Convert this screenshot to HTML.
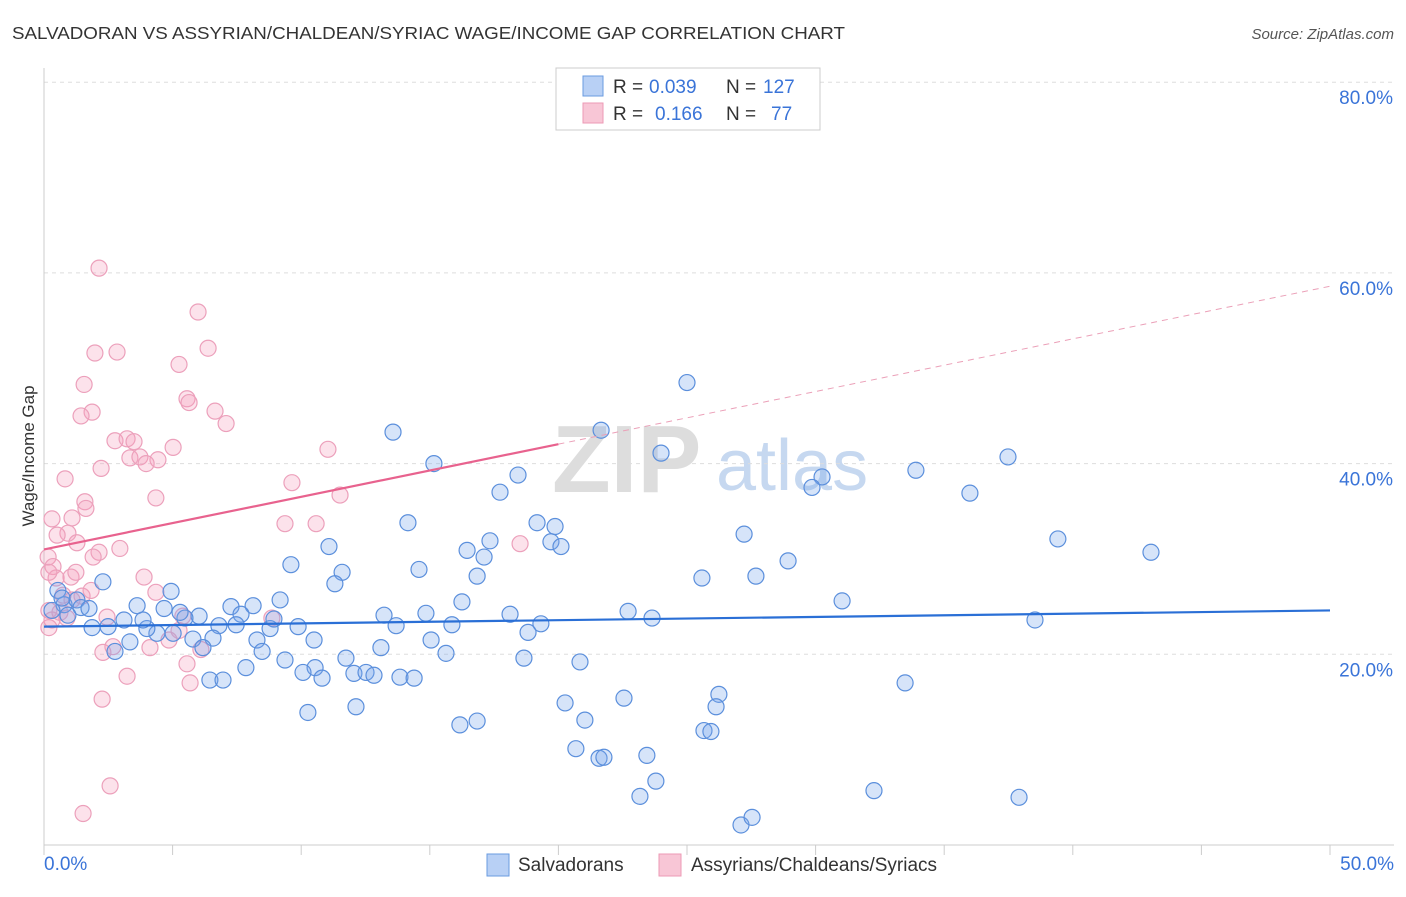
<!DOCTYPE html>
<html><head><meta charset="utf-8"><style>
body{margin:0;background:#fff;font-family:"Liberation Sans",sans-serif;}
svg text{font-family:"Liberation Sans",sans-serif;}
</style></head><body>
<svg id="chart" width="1406" height="892" xmlns="http://www.w3.org/2000/svg">
<text x="12" y="39" font-size="17.5" fill="#333" textLength="833" lengthAdjust="spacingAndGlyphs">SALVADORAN VS ASSYRIAN/CHALDEAN/SYRIAC WAGE/INCOME GAP CORRELATION CHART</text>
<text x="1394" y="39" font-size="15" fill="#555" font-style="italic" text-anchor="end">Source: ZipAtlas.com</text>
<g>
<text x="552" y="492" font-size="96" font-family="Liberation Serif,serif" fill="#ddd" font-weight="bold">ZIP</text>
<text x="716" y="490" font-size="72" fill="#c6d8f0">atlas</text>
</g>
<g id="grid"></g>
<g id="axes"></g>
<g id="marks"></g>
<g id="trend"></g>
<g>
<rect x="556" y="68" width="264" height="62" fill="#fff" stroke="#ccc"/>
<rect x="583" y="76" width="20" height="20" fill="#b8d0f5" stroke="#6a9be0"/>
<text x="613" y="93" font-size="19" fill="#333">R = </text><text x="649" y="93" font-size="19" fill="#3a74d8">0.039</text>
<text x="726" y="93" font-size="19" fill="#333">N = </text><text x="763" y="93" font-size="19" fill="#3a74d8">127</text>
<rect x="583" y="103" width="20" height="20" fill="#f8c6d6" stroke="#ec9ab5"/>
<text x="613" y="120" font-size="19" fill="#333">R = </text><text x="655" y="120" font-size="19" fill="#3a74d8">0.166</text>
<text x="726" y="120" font-size="19" fill="#333">N = </text><text x="771" y="120" font-size="19" fill="#3a74d8">77</text>
</g>
<g>
<rect x="487" y="854" width="22" height="22" fill="#b8d0f5" stroke="#6a9be0"/>
<text x="518" y="871" font-size="19" fill="#333">Salvadorans</text>
<rect x="659" y="854" width="22" height="22" fill="#f8c6d6" stroke="#ec9ab5"/>
<text x="691" y="871" font-size="19" fill="#333">Assyrians/Chaldeans/Syriacs</text>
</g>
<text transform="translate(34,456) rotate(-90)" font-size="17" fill="#333" text-anchor="middle">Wage/Income Gap</text>
</svg>
<script>
const blueX=[13.57,25.0,21.66,23.99,15.16,18.43,17.73,30.25,29.86,33.9,36.0,37.48,14.15,19.17,19.87,19.71,20.1,16.45,17.34,17.11,11.08,9.6,11.59,11.31,14.58,16.84,27.22,28.93,25.58,27.68,39.42,43.04,31.03,38.53,22.71,23.64,18.12,16.25,13.22,14.85,15.86,13.69,18.82,19.32,9.88,10.5,8.79,8.28,8.94,9.18,8.13,7.27,7.66,7.47,6.8,6.57,5.79,6.18,6.03,5.48,5.29,4.67,5.02,4.39,4.0,3.85,3.62,3.34,2.76,2.49,2.29,1.87,3.11,4.94,0.78,1.28,1.44,0.93,0.54,0.31,1.75,0.7,8.48,9.37,10.54,10.07,10.81,11.74,12.05,12.52,12.83,13.1,13.84,14.39,15.05,15.63,18.66,20.84,6.45,6.96,7.85,10.26,12.13,16.17,16.84,20.26,21.03,22.55,26.24,26.13,25.66,25.93,20.68,21.58,21.77,23.44,23.79,23.17,32.27,37.91,27.1,27.53,33.48];
const blueY=[43.3,48.5,43.5,41.1,40.0,38.8,37.0,38.6,37.5,39.3,36.9,40.7,33.8,33.8,33.4,31.8,31.3,30.9,31.9,30.2,31.3,29.4,28.6,27.4,28.9,28.2,32.6,29.8,28.0,28.2,32.1,30.7,25.6,23.6,24.5,23.8,24.2,25.5,24.1,24.3,23.1,23.0,22.3,23.2,22.9,21.5,22.7,21.5,23.7,25.7,25.1,25.0,24.2,23.1,23.0,21.7,21.6,20.7,24.0,23.8,24.4,24.8,22.2,22.2,22.7,23.6,25.1,21.3,20.3,22.9,27.6,22.8,23.6,26.6,25.2,25.7,24.9,24.1,26.7,24.6,24.8,25.9,20.3,19.4,18.6,18.1,17.5,19.6,18.0,18.1,17.8,20.7,17.6,17.5,21.5,20.1,19.6,19.2,17.3,17.3,18.6,13.9,14.5,12.6,13.0,14.9,13.1,15.4,15.8,14.5,12.0,11.9,10.1,9.1,9.2,9.4,6.7,5.1,5.7,5.0,2.1,2.9,17.0];
const pinkX=[2.14,5.99,6.38,1.98,2.84,5.25,1.56,5.56,5.64,1.87,1.44,6.65,7.08,2.76,3.23,3.5,5.02,11.04,3.34,3.73,4.43,3.97,0.82,2.22,9.64,1.59,4.35,11.51,1.63,0.31,1.09,0.93,0.51,2.95,1.28,2.14,1.91,9.37,10.58,18.51,0.16,0.35,0.47,1.05,1.24,0.19,0.74,1.48,1.83,3.89,4.35,1.09,0.19,0.31,0.89,0.62,2.45,5.4,8.86,5.25,4.86,4.12,2.29,2.68,6.1,5.56,3.23,5.68,2.26,2.57,1.52,0.19];
const pinkY=[60.5,55.9,52.1,51.6,51.7,50.4,48.3,46.8,46.4,45.4,45.0,45.5,44.2,42.4,42.6,42.3,41.7,41.5,40.6,40.7,40.4,40.0,38.4,39.5,38.0,36.0,36.4,36.7,35.3,34.2,34.3,32.7,32.5,31.1,31.7,30.7,30.2,33.7,33.7,31.6,30.2,29.2,28.0,28.1,28.6,28.6,26.2,26.1,26.7,28.1,26.5,25.7,24.6,23.6,23.8,24.4,23.9,24.0,23.8,22.5,21.5,20.7,20.2,20.8,20.5,19.0,17.7,17.0,15.3,6.2,3.3,22.8];
const blueTrend=[22.9,24.6];
const pinkTrend=[31.0,58.6];
const pinkSolidEnd=20;
const yTicks=[20,40,60,80];
const yTickLabels=["20.0%","40.0%","60.0%","80.0%"];
const xTicks=[0,5,10,15,20,25,30,35,40,45,50];

const X0=44,X1=1330,Y0=845,YTOP=82.2;
const xs=v=>X0+(v/50)*(X1-X0);
const ys=v=>Y0-(v/80)*(Y0-YTOP);
const NS="http://www.w3.org/2000/svg";
function mk(tag,attrs,parent){const e=document.createElementNS(NS,tag);for(const k in attrs)e.setAttribute(k,attrs[k]);document.getElementById(parent).appendChild(e);return e;}

yTicks.forEach((t,i)=>{
 const l=mk('line',{x1:X0,x2:1394,y1:ys(t),y2:ys(t),stroke:'#ddd','stroke-dasharray':'4,4'},'grid');
 
 
 const tx=mk('text',{x:1393,y:ys(t)+22,'font-size':19,fill:'#3a74d8','text-anchor':'end'},'axes');
 tx.textContent=yTickLabels[i];
 
 
});
const ax=mk('line',{x1:X0,x2:X0,y1:68,y2:Y0,stroke:'#ccc'},'axes');


const bx=mk('line',{x1:X0,x2:1394,y1:Y0,y2:Y0,stroke:'#ccc'},'axes');


xTicks.forEach(t=>{
 const l=mk('line',{x1:xs(t),x2:xs(t),y1:Y0,y2:Y0+10,stroke:'#ccc'},'axes');
 
 
});
const xl=mk('text',{x:44,y:870,'font-size':19,fill:'#3a74d8'},'axes');xl.textContent='0.0%';


const xr=mk('text',{x:1394,y:870,'font-size':19,fill:'#3a74d8','text-anchor':'end'},'axes');xr.textContent='50.0%';



pinkX.forEach((x,i)=>{
 const c=mk('circle',{cx:xs(x),cy:ys(pinkY[i]),r:8,fill:'rgba(244,160,190,0.3)',stroke:'#eca0bb','stroke-width':1.2},'marks');
 
 
});
blueX.forEach((x,i)=>{
 const c=mk('circle',{cx:xs(x),cy:ys(blueY[i]),r:8,fill:'rgba(120,165,235,0.3)',stroke:'#5b8fdc','stroke-width':1.2},'marks');
 
 
});
const bl=mk('line',{x1:xs(0),y1:ys(blueTrend[0]),x2:xs(50),y2:ys(blueTrend[1]),stroke:'#2a6fd6','stroke-width':2.2},'trend');


const pm=(pinkTrend[1]-pinkTrend[0])/50;
const pe=pinkTrend[0]+pm*pinkSolidEnd;
const pl=mk('line',{x1:xs(0),y1:ys(pinkTrend[0]),x2:xs(pinkSolidEnd),y2:ys(pe),stroke:'#e8628e','stroke-width':2.2},'trend');


const pd=mk('line',{x1:xs(pinkSolidEnd),y1:ys(pe),x2:xs(50),y2:ys(pinkTrend[1]),stroke:'#eba0b8','stroke-width':1,'stroke-dasharray':'6,5'},'trend');


</script>
</body></html>
